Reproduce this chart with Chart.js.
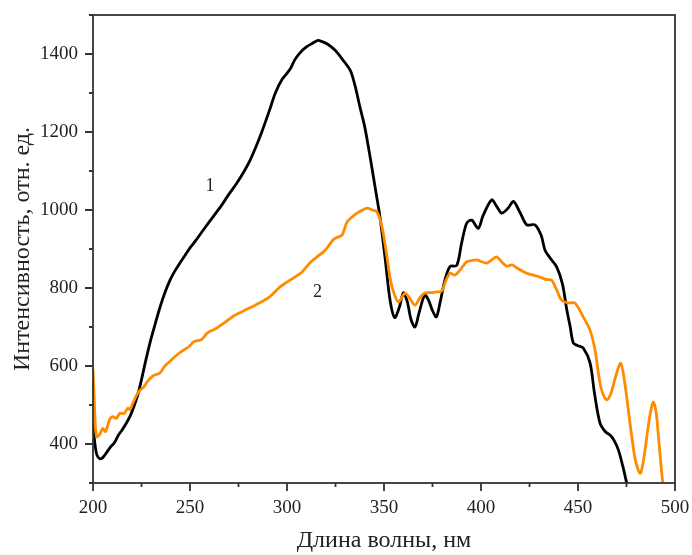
<!DOCTYPE html>
<html>
<head>
<meta charset="utf-8">
<script src="https://cdn.jsdelivr.net/npm/chart.js@4.4.1/dist/chart.umd.min.js"></script>
<style>
  html, body { margin: 0; padding: 0; background: #fff; }
  #wrap { width: 692px; height: 555px; }
</style>
</head>
<body>
<div id="wrap"><canvas id="spectrum"></canvas></div>
<script>
// Curve 1 (black)
const wave1 = [200, 201, 202, 203.5, 205, 207, 209, 211, 213, 215, 217, 219, 221, 223, 225, 227, 229.5, 232, 234.5, 237, 239.7, 242, 244.8, 247.5, 250, 253, 256, 260, 263, 266, 270, 274, 278, 281, 284, 287, 291, 294, 297.5, 301.5, 304, 306.7, 310, 313, 316, 318, 321, 324.7, 328, 332.5, 335, 337.6, 340, 342.8, 345.4, 347.9, 350.5, 353.1, 355.5, 358, 360, 362, 364, 366, 368, 371, 373, 375, 377, 379, 381.4, 384, 387.5, 390, 392.6, 395.2, 398.6, 401, 405.5, 408, 410.7, 414, 416.7, 420, 423.6, 427.8, 431, 433, 435.6, 439, 442, 444.2, 446, 447.6, 450, 452.7, 456.2, 458.5, 461.3, 464, 466.5, 468.5, 470.8, 473, 475.1, 477];
const int1 = [450, 400, 372, 362, 365, 378, 392, 403, 422, 436, 452, 470, 495, 525, 565, 610, 662, 707, 750, 787, 820, 842, 864, 884, 903, 922, 943, 970, 990, 1010, 1040, 1068, 1100, 1128, 1162, 1200, 1256, 1300, 1335, 1360, 1385, 1403, 1418, 1427, 1435, 1432, 1425, 1410, 1390, 1359, 1320, 1264, 1215, 1137, 1059, 983, 880, 769, 724, 752, 788, 765, 718, 700, 735, 782, 768, 742, 726, 765, 820, 855, 858, 915, 966, 974, 953, 985, 1026, 1010, 992, 1005, 1022, 995, 962, 962, 935, 897, 877, 854, 810, 745, 700, 659, 652, 646, 608, 530, 454, 432, 423, 410, 385, 345, 300, 260];

// Curve 2 (orange)
const wave2 = [200, 200.6, 201.3, 202, 203.5, 205, 206.5, 208.5, 210, 212, 213.9, 216, 218, 219, 221, 223, 224.2, 226, 228, 231, 234.5, 237, 239.7, 242, 245, 249.5, 252, 256, 259, 263, 268, 273, 277, 282, 286, 291, 296.4, 300, 304, 307.5, 311.9, 315, 318.6, 321, 323.7, 326, 328.4, 330.9, 333.5, 336.1, 339, 341.2, 344, 346.4, 349, 351.5, 353, 354.6, 357.4, 360.8, 363, 366, 368.5, 371, 374, 377, 379.7, 382, 384, 386.5, 389, 392.6, 395, 397.8, 400, 403, 405.5, 408, 410.5, 413.2, 416, 419, 423.6, 427, 430.4, 433.5, 436.4, 439, 441.5, 445, 448.5, 452.7, 456.2, 458.8, 460.5, 462.2, 464.8, 467, 469.5, 472, 474, 476.8, 479.5, 482, 483.5, 485.4, 487.3, 488.8, 490.3, 491.8, 493.7, 495];
const int2 = [590, 520, 440, 418, 425, 440, 432, 462, 470, 466, 479, 478, 492, 488, 510, 530, 538, 545, 560, 575, 582, 600, 612, 623, 635, 650, 662, 668, 685, 695, 712, 730, 740, 752, 762, 777, 803, 815, 828, 840, 865, 878, 892, 905, 923, 930, 936, 969, 982, 992, 1000, 1005, 1000, 995, 956, 880, 830, 795, 764, 787, 775, 756, 775, 787, 788, 790, 792, 820, 838, 833, 845, 867, 870, 872, 868, 864, 872, 880, 868, 856, 859, 850, 838, 833, 828, 822, 820, 795, 769, 762, 761, 726, 692, 641, 582, 538, 513, 530, 575, 607, 560, 454, 360, 325, 350, 416, 480, 508, 480, 400, 300, 250];

// Curve number labels, placed in data units
const curveNames = ['1', '2'];
const nameX = [260.3, 315.7];
const nameY = [1061, 788];

// Axes
const xMin = 200, xMax = 500, xMajor = 50, xMinor = 25;
const yMin = 300, yMax = 1500, yMajor = 200, yMinor = 100;
const xTitle = 'Длина волны, нм';
const yTitle = 'Интенсивность, отн. ед.';

const serif = "'Liberation Serif', 'Times New Roman', serif";
const axisColor = '#333333';
Chart.defaults.font.family = serif;
Chart.defaults.color = '#222';

function toPoints(xs, ys) {
    return xs.map((v, i) => ({ x: v, y: ys[i] }));
}

// frame, tick marks and curve numbers
const framePlugin = {
    id: 'frame',
    afterDraw(chart) {
        const { ctx, chartArea: a, scales: { x, y } } = chart;
        ctx.save();
        ctx.strokeStyle = axisColor;
        ctx.lineWidth = 1.8;
        ctx.strokeRect(a.left, a.top, a.right - a.left, a.bottom - a.top);
        ctx.beginPath();
        x.ticks.forEach(t => {
            const px = x.getPixelForValue(t.value);
            const len = t.value % xMajor === 0 ? 8 : 4;
            ctx.moveTo(px, a.bottom);
            ctx.lineTo(px, a.bottom + len);
        });
        y.ticks.forEach(t => {
            const py = y.getPixelForValue(t.value);
            const len = t.value % yMajor === 0 ? 8 : 4;
            ctx.moveTo(a.left, py);
            ctx.lineTo(a.left - len, py);
        });
        ctx.stroke();
        ctx.fillStyle = '#222';
        ctx.font = '18px ' + serif;
        ctx.textAlign = 'center';
        ctx.textBaseline = 'middle';
        curveNames.forEach((n, i) => {
            ctx.fillText(n, x.getPixelForValue(nameX[i]), y.getPixelForValue(nameY[i]));
        });
        ctx.restore();
    }
};

new Chart(document.getElementById('spectrum'), {
    type: 'line',
    data: {
        datasets: [
            {
                label: '1',
                data: toPoints(wave1, int1),
                borderColor: '#000000',
                borderWidth: 2.8,
                order: 1
            },
            {
                label: '2',
                data: toPoints(wave2, int2),
                borderColor: '#ff8c00',
                borderWidth: 2.8,
                order: 0
            }
        ]
    },
    options: {
        responsive: true,
        maintainAspectRatio: false,
        animation: false,
        layout: { padding: { top: 15, right: 17, left: 0, bottom: 0 } },
        elements: {
            point: { radius: 0 },
            line: { tension: 0.3, borderJoinStyle: 'round', borderCapStyle: 'round' }
        },
        plugins: {
            legend: { display: false },
            tooltip: { enabled: false }
        },
        scales: {
            x: {
                type: 'linear',
                min: xMin,
                max: xMax,
                afterFit: s => { s.height = 72; s.paddingLeft = 0; s.paddingRight = 0; },
                grid: { display: false, drawTicks: false },
                border: { display: false },
                ticks: {
                    stepSize: xMinor,
                    autoSkip: false,
                    maxRotation: 0,
                    padding: 14,
                    font: { size: 19 },
                    color: '#222',
                    callback: v => (v % xMajor === 0 ? String(v) : '')
                },
                title: {
                    display: true,
                    text: xTitle,
                    font: { size: 24 },
                    color: '#222',
                    padding: { top: 0, bottom: 0 }
                }
            },
            y: {
                min: yMin,
                max: yMax,
                afterFit: s => { s.width = 93; s.paddingTop = 0; s.paddingBottom = 0; },
                grid: { display: false, drawTicks: false },
                border: { display: false },
                ticks: {
                    stepSize: yMinor,
                    autoSkip: false,
                    padding: 15,
                    font: { size: 19 },
                    color: '#222',
                    callback: v => (v % yMajor === 0 ? String(v) : '')
                },
                title: {
                    display: true,
                    text: yTitle,
                    font: { size: 24 },
                    color: '#222',
                    padding: { top: 8, bottom: 0 }
                }
            }
        }
    },
    plugins: [framePlugin]
});
</script>
</body>
</html>
